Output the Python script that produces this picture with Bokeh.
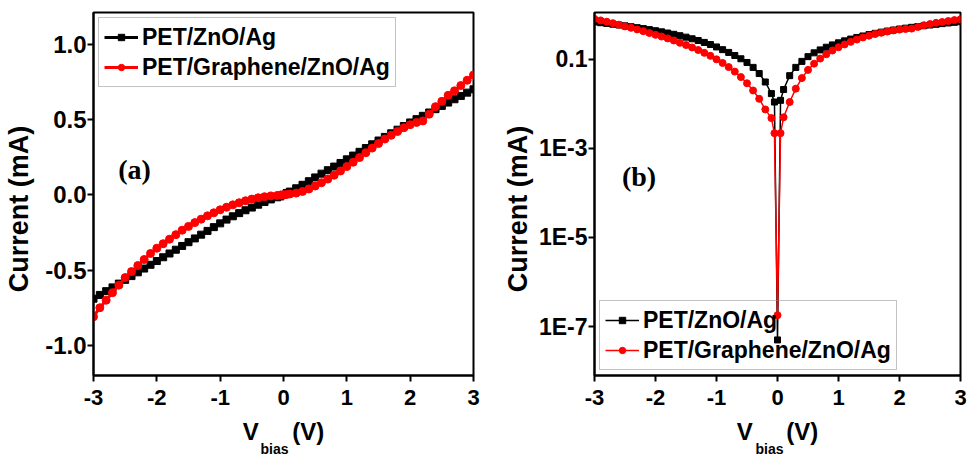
import math
from bokeh.plotting import figure
from bokeh.layouts import row
from bokeh.models import (Range1d, FixedTicker, PrintfTickFormatter, CustomJSTickFormatter,
                          Legend, LegendItem, Label, Title)
from bokeh.embed import file_html
from bokeh.resources import INLINE

# ---------------- data ----------------
bias_v = [-3.0, -2.9, -2.8, -2.7, -2.6, -2.5, -2.4, -2.3, -2.2, -2.1,
          -2.0, -1.9, -1.8, -1.7, -1.6, -1.5, -1.4, -1.3, -1.2, -1.1,
          -1.0, -0.9, -0.8, -0.7, -0.6, -0.5, -0.4, -0.3, -0.2, -0.1,
          -0.05, 0.0, 0.05,
          0.1, 0.2, 0.3, 0.4, 0.5, 0.6, 0.7, 0.8, 0.9, 1.0,
          1.1, 1.2, 1.3, 1.4, 1.5, 1.6, 1.7, 1.8, 1.9, 2.0,
          2.1, 2.2, 2.3, 2.4, 2.5, 2.6, 2.7, 2.8, 2.9, 3.0]

# current in mA, PET/ZnO/Ag
i_zno = [-0.690, -0.665, -0.640, -0.615, -0.590, -0.565, -0.540, -0.515, -0.490, -0.465,
         -0.440, -0.415, -0.390, -0.365, -0.340, -0.315, -0.290, -0.265, -0.240, -0.215,
         -0.190, -0.165, -0.143, -0.122, -0.103, -0.085, -0.066, -0.048, -0.031, -0.017,
         -0.011, -5e-8, 0.012,
         0.021, 0.043, 0.066, 0.090, 0.115, 0.140, 0.163, 0.187, 0.211, 0.235,
         0.260, 0.285, 0.310, 0.335, 0.360, 0.384, 0.408, 0.432, 0.456, 0.480,
         0.502, 0.524, 0.546, 0.568, 0.590, 0.612, 0.634, 0.656, 0.678, 0.700]

# current in mA, PET/Graphene/ZnO/Ag
i_graphene = [-0.810, -0.750, -0.700, -0.650, -0.600, -0.550, -0.510, -0.470, -0.430, -0.390,
              -0.355, -0.325, -0.295, -0.265, -0.235, -0.210, -0.185, -0.162, -0.140, -0.120,
              -0.100, -0.083, -0.067, -0.053, -0.040, -0.029, -0.020, -0.013, -0.0075, -0.0048,
              -0.0022, 1.8e-7, 0.0022,
              0.0050, 0.0110, 0.0220, 0.0380, 0.0580, 0.0800, 0.1040, 0.1300, 0.1580, 0.1870,
              0.216, 0.247, 0.279, 0.310, 0.340, 0.370, 0.395, 0.420, 0.445, 0.465,
              0.480, 0.490, 0.535, 0.585, 0.620, 0.660, 0.690, 0.725, 0.760, 0.795]

series_names = ["PET/ZnO/Ag", "PET/Graphene/ZnO/Ag"]
x_ticks = [-3, -2, -1, 0, 1, 2, 3]
ya_ticks = [-1.0, -0.5, 0.0, 0.5, 1.0]
yb_ticks = [1e-7, 1e-5, 1e-3, 1e-1]

abs_zno = [abs(v) for v in i_zno]
abs_graphene = [abs(v) for v in i_graphene]

FONT = "Liberation Sans"
BLACK = "#000000"
RED = "#ff0000"
NB = "\u00a0"


def style(p, tick_size_x, tick_size_y, ylabel_standoff):
    p.outline_line_color = "black"
    p.outline_line_width = 2
    p.outline_line_alpha = 1.0
    p.xgrid.visible = False
    p.ygrid.visible = False
    p.background_fill_color = "white"
    p.border_fill_color = "white"
    for ax, sz in ((p.xaxis[0], tick_size_x), (p.yaxis[0], tick_size_y)):
        ax.axis_line_width = 2
        ax.axis_line_color = "black"
        ax.major_tick_line_width = 2
        ax.major_tick_line_color = "black"
        ax.major_tick_out = 6
        ax.major_tick_in = 0
        ax.minor_tick_line_color = None
        ax.major_label_text_font = FONT
        ax.major_label_text_font_style = "bold"
        ax.major_label_text_font_size = sz
        ax.major_label_text_color = "black"
        ax.axis_label_text_font = FONT
        ax.axis_label_text_font_style = "bold"
        ax.axis_label_text_color = "black"
    p.xaxis[0].major_label_standoff = 8
    p.yaxis[0].major_label_standoff = 1
    p.xaxis[0].ticker = FixedTicker(ticks=x_ticks)
    p.xaxis[0].formatter = PrintfTickFormatter(format="%d")
    p.xaxis[0].axis_label = "V" + NB * 5 + "(V)"
    p.xaxis[0].axis_label_text_font_size = "24px"
    p.xaxis[0].axis_label_standoff = 10
    p.yaxis[0].axis_label = "Current (mA)" + NB * 4
    p.yaxis[0].axis_label_text_font_size = "27px"
    p.yaxis[0].axis_label_standoff = ylabel_standoff


def add_subscript(p, offset):
    t = Title(text="bias", align="left", vertical_align="top", offset=offset, standoff=-14,
              text_font=FONT, text_font_style="bold", text_font_size="14px",
              text_color="black")
    p.add_layout(t, "below")


def make_legend(p, r_k, r_r, loc, bg_alpha):
    leg = Legend(items=[LegendItem(label=series_names[0], renderers=r_k),
                        LegendItem(label=series_names[1], renderers=r_r)],
                 location=loc)
    leg.margin = 5
    leg.padding = 5
    leg.spacing = 2
    leg.glyph_width = 34
    leg.glyph_height = 16
    leg.label_height = 28
    leg.label_standoff = 4
    leg.label_text_font = FONT
    leg.label_text_font_style = "bold"
    leg.label_text_font_size = "23px"
    leg.label_text_color = "black"
    leg.border_line_color = "#888888"
    leg.border_line_width = 1
    leg.background_fill_color = "white"
    leg.background_fill_alpha = bg_alpha
    p.add_layout(leg)


def panel_tag(p, x, y, text):
    p.add_layout(Label(x=x, y=y, text=text, text_align="left", text_baseline="middle",
                       text_font="Liberation Serif", text_font_style="bold",
                       text_font_size="28px", text_color="black"))


# ---------------- panel (a): linear ----------------
pa = figure(width=498, height=456, x_range=Range1d(-3, 3), y_range=Range1d(-1.2, 1.21),
            output_backend="svg", toolbar_location=None,
            min_border_left=93, min_border_right=25, min_border_top=11, min_border_bottom=81)
style(pa, "22px", "24px", 8)
pa.yaxis[0].ticker = FixedTicker(ticks=ya_ticks)
pa.yaxis[0].formatter = PrintfTickFormatter(format="%.1f")

ka1 = pa.line(bias_v, i_zno, line_color=BLACK, line_width=3)
ka2 = pa.scatter(bias_v, i_zno, marker="square", size=7, fill_color=BLACK, line_color=BLACK)
ra1 = pa.line(bias_v, i_graphene, line_color=RED, line_width=3)
ra2 = pa.scatter(bias_v, i_graphene, marker="circle", size=8, fill_color=RED, line_color=RED)
make_legend(pa, [ka1, ka2], [ra1, ra2], "top_left", 1.0)
panel_tag(pa, -2.61, 0.17, "(a)")
add_subscript(pa, 167)

# ---------------- panel (b): log of |I| ----------------
pb = figure(width=474, height=456, x_range=Range1d(-3, 3),
            y_range=Range1d(10 ** -8.1, 10 ** 0.052), y_axis_type="log",
            output_backend="svg", toolbar_location=None,
            min_border_left=96, min_border_right=12, min_border_top=12, min_border_bottom=80)
style(pb, "22px", "23px", 3)
pb.yaxis[0].ticker = FixedTicker(ticks=yb_ticks)
pb.yaxis[0].formatter = CustomJSTickFormatter(code="""
    const e = Math.round(Math.log10(tick));
    if (e == -1) { return "0.1"; }
    return "1E" + e;
""")

kb1 = pb.line(bias_v, abs_zno, line_color=BLACK, line_width=1.5)
kb2 = pb.scatter(bias_v, abs_zno, marker="square", size=6, fill_color=BLACK, line_color=BLACK)
rb1 = pb.line(bias_v, abs_graphene, line_color=RED, line_width=1.5)
rb2 = pb.scatter(bias_v, abs_graphene, marker="circle", size=7, fill_color=RED, line_color=RED)
make_legend(pb, [kb1, kb2], [rb1, rb2], "bottom_left", 0.0)
panel_tag(pb, -2.55, 2.4e-4, "(b)")
add_subscript(pb, 161)

layout = row(pa, pb)
open("out.html", "w").write(file_html(layout, INLINE))
